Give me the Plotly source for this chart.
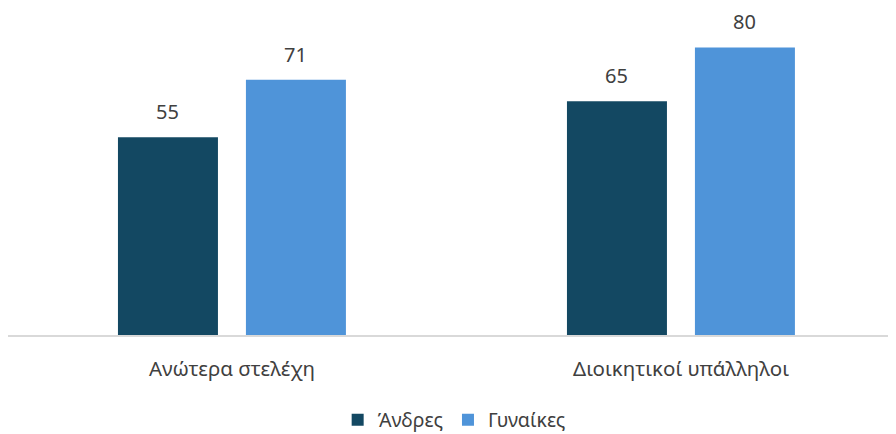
import plotly.graph_objects as go

categories = ["Ανώτερα στελέχη", "Διοικητικοί υπάλληλοι"]
men = [55, 65]
women = [71, 80]
series_names = ["Άνδρες", "Γυναίκες"]

DARK = "#134862"
LIGHT = "#4F94D9"
FONT = "Noto Sans"
BW = 0.2227
OFFS = (-0.254, 0.031)

fig = go.Figure()
fig.add_trace(go.Bar(x=categories, y=men, name=series_names[0], marker_color=DARK,
                     marker_line_width=0, offset=OFFS[0], width=BW))
fig.add_trace(go.Bar(x=categories, y=women, name=series_names[1], marker_color=LIGHT,
                     marker_line_width=0, offset=OFFS[1], width=BW))

for vals, off in ((men, OFFS[0]), (women, OFFS[1])):
    for i, v in enumerate(vals):
        fig.add_annotation(x=i + off + BW / 2, y=v, text=str(v), showarrow=False,
                           yanchor="bottom", yshift=10, xref="x", yref="y",
                           font=dict(family=FONT, size=20, color="#404040"))

# page has an 8px body margin; figure coords = page coords - 8
top = 12
base = 327.5
H = 426
fig.update_layout(
    width=888, height=H,
    margin=dict(l=0, r=1, t=top, b=H - base),
    plot_bgcolor="white", paper_bgcolor="white",
    barmode="overlay",
    showlegend=True,
    legend=dict(orientation="h", x=0.503, xanchor="center", yref="container", y=14 / H,
                yanchor="middle",
                font=dict(family=FONT, size=19.5, color="#404040"), traceorder="normal",
                itemwidth=30),
    xaxis=dict(type="category", range=[-0.4989, 1.4766], showline=True, linecolor="#D9D9D9",
               linewidth=1.5, ticks="", ticklabelstandoff=15,
               tickfont=dict(family=FONT, size=20.5, color="#404040")),
    yaxis=dict(range=[0, (base - top) / 3.6], visible=False, showgrid=False),
)
fig.write_html("out.html")
